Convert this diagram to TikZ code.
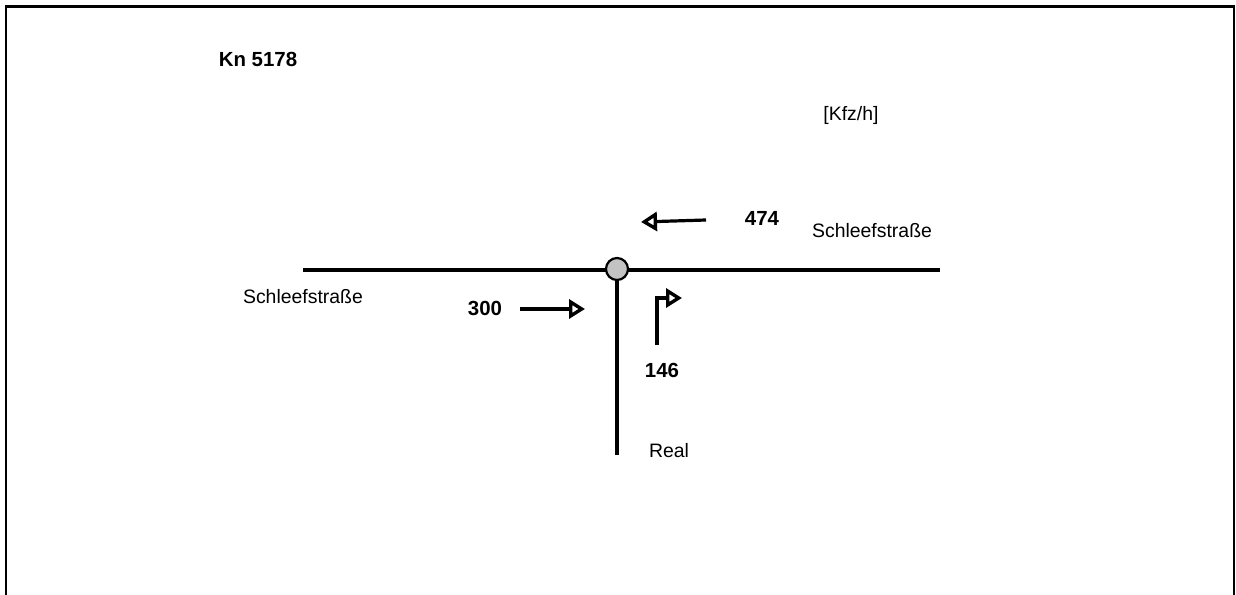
\documentclass[tikz,border=0pt]{standalone}
\usepackage{fontspec}
\setmainfont{Liberation Sans}
\usetikzlibrary{arrows.meta}
\begin{document}
\begin{tikzpicture}[x=1bp,y=-1bp,
  lbl/.style={inner sep=0pt, font=\fontsize{19.5}{22}\selectfont},
  num/.style={inner sep=0pt, font=\fontsize{20.5}{23}\selectfont\bfseries},
  road/.style={line width=3.2bp},
  flow/.style={line width=3.2bp, -{Triangle[open, length=16bp, width=19bp, line width=3.4bp]}},
  frame/.style={line width=2.8bp}
]
\useasboundingbox (0,0) rectangle (1236,595);
% frame (open at bottom)
\coordinate (fbl) at (6,596);
\coordinate (ftl) at (6,6.5);
\coordinate (ftr) at (1234,6.5);
\coordinate (fbr) at (1234,596);
\draw[frame] (fbl) -- (ftl) -- (ftr) -- (fbr);

% texts
\node[num] (kn) at (258,59) {Kn 5178};
\node[lbl] (unit) at (851,115) {[Kfz/h]};
\node[num] (n474) at (762,218) {474};
\node[lbl] (sr) at (872,231) {Schleefstraße};
\node[lbl] (sl) at (303,297) {Schleefstraße};
\node[num] (n300) at (485,308) {300};
\node[num] (n146) at (662,370) {146};
\node[lbl] (real) at (669,451) {Real};

% roads
\coordinate (rw) at (303,270);
\coordinate (re) at (940,270);
\coordinate (rs) at (617,455);
\draw[road] (rw) -- (re);
\node[circle, draw, line width=2.2bp, fill={rgb,255:red,195;green,195;blue,195}, minimum size=22bp, inner sep=0pt] (k) at (617,269) {};
\draw[road] (k.south) -- (rs);

% flows
\coordinate (a1s) at (706,220);
\coordinate (a1e) at (641,222);
\draw[flow] (a1s) -- (a1e);
\coordinate (a2s) at (520,309);
\coordinate (a2e) at (585,309);
\draw[flow] (a2s) -- (a2e);
\coordinate (a3s) at (657,345);
\coordinate (a3m) at (657,298);
\coordinate (a3e) at (682,298);
\draw[flow] (a3s) -- (a3m) -- (a3e);
\end{tikzpicture}
\end{document}
